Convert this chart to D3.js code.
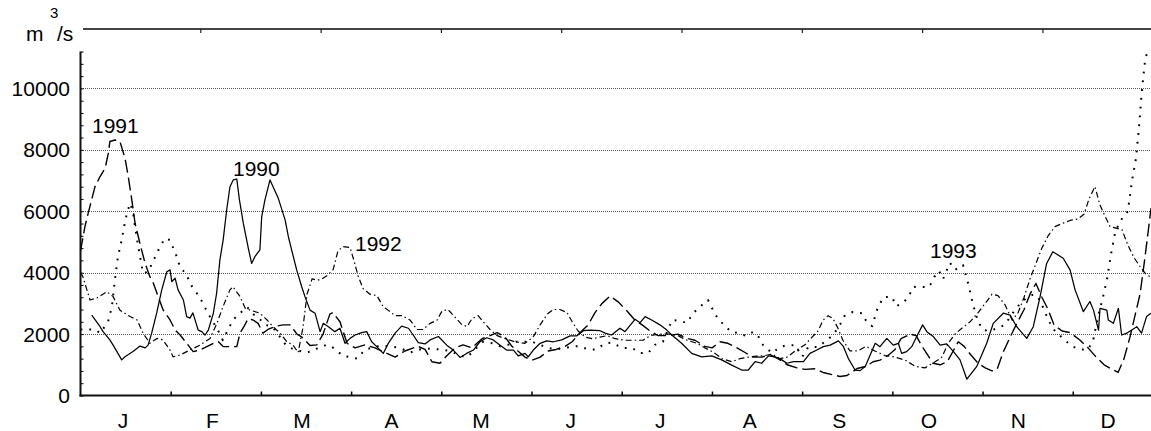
<!DOCTYPE html>
<html><head><meta charset="utf-8">
<script src="https://cdn.jsdelivr.net/npm/d3@7"></script>
<style>
body{margin:0;background:#fff}
svg{display:block;overflow:hidden}
text{font-family:"Liberation Sans",Arial,sans-serif;fill:#000}
</style></head>
<body><svg id="c" width="1151" height="431"></svg>
<script>
// ---------- data ----------
const months = ["J","F","M","A","M","J","J","A","S","O","N","D"];
const yTickValues = [0,2000,4000,6000,8000,10000];
const yTickLabels = ["0","2000","4000","6000","8000","10000"];
const yearLabels = ["1990","1991","1992","1993"];

const days1990 = [3.8,6.6,7.6,9.9,11.0,13.9,15.0,17.7,20.1,21.8,22.8,24.0,25.7,27.4,29.1,30.2,30.8,31.9,32.9,34.7,35.8,36.9,37.9,39.7,40.9,42.0,43.1,44.8,45.9,47.0,48.1,49.3,50.4,51.5,52.7,53.6,54.9,56.6,57.7,58.8,60.5,61.1,62.2,63.9,66.7,69.0,70.1,71.2,72.9,74.6,75.7,77.4,79.1,80.8,81.9,83.6,85.8,87.5,89.2,90.9,92.6,94.8,96.5,98.2,99.9,102.1,103.8,106.1,108.3,110.6,112.2,113.9,116.2,117.9,120.7,123.5,125.7,128.0,130.2,132.5,134.7,137.0,139.2,141.5,143.7,146.0,147.6,149.9,151.0,152.7,155.0,157.2,159.5,162.3,165.1,167.3,169.6,171.8,175.2,176.9,179.1,181.9,183.6,187.0,188.7,190.4,192.6,195.4,197.7,199.4,202.7,206.1,209.5,212.9,216.2,219.6,223.0,225.2,227.5,229.7,232.0,234.2,236.5,238.2,240.4,243.8,246.0,248.3,250.5,252.8,255.6,257.3,258.9,261.2,262.9,264.6,266.3,268.0,269.6,271.9,274.1,275.8,276.9,278.6,280.3,282.0,284.0,285.4,287.6,289.9,292.1,294.4,296.6,298.9,302.2,305.6,307.8,311.2,313.5,315.7,319.1,321.3,323.6,325.8,327.9,331.4,333.7,335.4,338.2,340.4,341.6,343.3,343.8,346.1,346.6,348.3,350.0,351.1,352.8,356.2,357.8,359.5,361.0];
const flow1990 = [2620,2240,2080,1810,1640,1160,1260,1430,1610,1550,1640,2030,2690,3440,4030,4090,3710,3820,3440,3110,2570,2520,2690,2130,2080,1970,2130,2680,3330,4410,5060,6040,6800,7020,7050,6370,5610,4790,4300,4520,4740,5820,6370,7020,6420,5720,5170,4740,4090,3540,3220,2780,2680,2080,2350,2240,2080,2190,1700,1860,1970,2050,2080,1750,1590,1370,1700,2030,2260,2190,1970,1720,1680,1810,1920,1640,1480,1240,1370,1480,1750,1880,1810,1640,1480,1480,1290,1370,1260,1480,1700,1780,1750,1810,1940,1940,2110,2130,2110,2030,1970,2190,2080,2480,2370,2570,2460,2300,2130,1970,1700,1370,1260,1290,1160,990,830,830,1100,1050,1290,1260,1160,1050,1100,1100,1370,1480,1590,1640,1780,1590,1210,830,810,940,1320,1700,1590,1860,1640,1700,1370,1430,1590,1920,2300,2080,1920,1640,1680,1430,1160,530,940,1700,2350,2680,2620,2240,1860,2240,3220,4300,4680,4470,4090,3440,2730,3060,2780,2130,2840,2780,2460,2350,2840,1970,2030,2240,2030,2570,2680];

const days1991 = [0,1.5,2.6,4.9,6.6,8.3,9.4,9.9,11.6,13.3,15.0,16.1,17.3,18.4,19.5,20.6,21.8,23.4,24.6,26.2,27.9,30.2,31.9,33.6,35.8,38.0,40.3,42.6,44.8,46.5,48.2,50.4,52.7,53.8,55.1,56.5,58.2,59.9,61.5,63.2,65.6,68.3,70.7,73.0,74.7,77.4,79.7,81.8,84.1,85.1,87.5,89.9,92.6,95.9,99.3,102.7,106.1,109.4,113.8,116.2,118.5,121.2,123.6,126.3,129.0,132.0,135.4,138.1,140.5,143.2,145.5,147.5,149.9,152.3,155.0,157.7,160.4,163.4,165.8,168.5,171.2,173.5,175.9,178.6,181.3,184.3,187.0,189.4,192.1,194.8,198.1,201.5,204.9,207.2,210.6,213.0,215.6,218.3,221.4,224.1,226.8,229.8,232.5,235.2,238.3,241.6,244.3,247.7,250.4,253.5,256.1,258.5,261.9,264.9,267.3,269.6,272.3,274.7,276.7,279.8,281.8,283.8,285.5,287.5,289.9,292.3,294.3,296.0,298.0,300.0,302.7,305.1,307.4,309.1,311.1,313.5,315.5,318.2,320.2,322.2,324.2,326.3,328.3,331.0,333.7,337.1,339.8,342.5,345.2,347.9,349.9,351.9,353.9,355.6,357.3,358.7,360.0,361.0];
const flow1991 = [4700,5500,5940,6800,7130,7400,7890,8270,8320,8270,7730,7130,6370,5610,5170,4740,4300,3870,3650,3220,2780,2460,2130,1970,1700,1430,1480,1590,1700,1750,1590,1590,1590,2030,2240,2500,2460,2350,2030,2150,2250,2300,2300,2000,1900,1630,1650,2000,2650,2700,2400,1700,1550,1650,1550,1400,1250,1450,1600,1500,1100,1050,1300,1550,1650,1550,1850,1950,2050,1900,1600,1450,1250,1150,1250,1450,1500,1600,1750,2050,2300,2700,3000,3240,3050,2750,2450,2300,2100,1950,1950,2000,1850,1800,1600,1550,1750,1700,1550,1400,1250,1250,1330,1200,1000,900,850,870,750,680,620,650,880,950,1100,1150,1300,1500,1850,2000,1950,1600,1350,1050,1000,1100,1450,1750,1600,1350,1050,900,800,850,1400,1900,2300,2800,3300,3650,3200,2800,2300,2100,2050,1800,1550,1250,1000,850,750,1200,1900,2600,3300,4300,5300,6100];

const days1992 = [0,0.8,3.2,5.6,8.9,11.0,13.3,16.7,19.1,21.1,23.4,25.8,27.8,30.2,31.2,33.6,36.9,40.3,43.7,46.0,48.0,50.4,51.4,53.8,55.5,57.2,60.5,62.9,64.9,67.3,69.6,71.7,73.4,75.0,76.4,78.1,79.8,81.5,83.1,85.2,86.8,88.5,90.9,92.2,93.6,95.3,97.6,100.0,102.0,103.7,106.1,108.4,111.1,113.5,115.5,117.9,120.2,121.9,123.9,126.3,128.7,130.4,132.0,134.1,135.8,138.1,140.5,143.2,146.5,149.9,152.6,155.0,157.4,159.4,161.7,164.1,165.8,167.8,170.2,172.8,175.2,177.6,180.3,183.6,187.0,189.7,192.1,195.4,198.8,201.5,204.5,207.9,210.6,213.6,216.3,219.7,222.4,225.1,228.1,230.8,233.2,235.9,238.3,241.0,244.3,246.7,248.7,250.4,252.1,253.8,255.4,257.1,259.5,262.2,264.9,267.9,271.3,274.7,278.1,281.5,284.8,288.2,290.5,292.6,294.9,297.3,300.0,302.7,305.1,307.4,309.4,311.8,314.2,316.2,318.2,320.2,322.2,324.2,326.3,328.6,331.0,333.7,336.4,338.4,340.1,342.1,343.8,345.2,347.2,349.2,351.2,353.2,355.2,357.3,359.3,361.0];
const flow1992 = [4000,3870,3110,3180,3380,3220,2780,2570,2460,2030,1700,1860,1810,1480,1260,1320,1480,1640,1860,2350,2880,3440,3540,3220,2850,2780,2680,2460,2240,2030,1750,1640,1400,2200,3300,3800,3750,3800,3900,4100,4700,4850,4820,4400,3900,3480,3300,3250,2900,2780,2600,2600,2460,2150,2150,2350,2450,2750,2800,2550,2300,2250,2500,2600,2400,2150,1950,1850,1750,1700,1900,2300,2650,2800,2800,2700,2400,2100,1900,1850,1900,1950,1850,1800,1800,1800,1950,2000,2000,1950,1800,1700,1550,1400,1200,1100,1200,1250,1280,1300,1350,1200,1250,1450,1650,1900,2100,2450,2600,2500,2200,1800,1450,1450,1600,1450,1300,1250,1150,950,900,1100,1250,1700,2000,2200,2400,2700,3000,3300,3250,2950,2450,2700,3200,3800,4300,4800,5200,5500,5600,5700,5750,5900,6400,6800,6200,5900,5500,5450,5400,4900,4500,4200,3950,3850];

const days1993 = [0,2.2,4.9,6.6,9.3,10.6,11.6,12.6,14.0,15.0,15.7,16.7,17.7,18.4,19.1,20.1,21.1,22.8,24.1,25.1,26.8,28.5,30.2,32.5,33.5,35.9,36.9,39.3,41.3,42.7,44.3,46.0,48.0,49.7,51.4,53.8,56.2,58.2,59.9,62.2,64.6,67.3,69.6,72.0,74.0,76.0,78.4,81.0,83.4,86.2,88.2,90.9,93.3,96.0,98.3,101.0,104.4,107.7,111.1,114.5,117.9,121.2,124.6,128.0,130.4,133.0,135.7,138.8,141.5,144.2,146.8,149.6,152.3,155.0,157.7,160.4,163.4,166.1,168.5,171.2,173.9,176.9,179.2,182.6,186.0,188.7,191.4,193.7,196.4,199.5,202.2,204.5,206.6,209.6,211.6,213.3,215.0,217.0,219.4,221.7,224.4,226.8,228.5,230.2,233.2,235.9,238.3,241.0,243.4,245.4,248.7,251.8,253.8,256.1,257.8,260.5,263.6,265.3,267.0,267.9,268.9,270.9,273.7,275.0,277.4,279.4,280.8,283.8,286.2,287.9,289.5,290.9,291.9,293.2,294.9,297.6,299.3,300.9,302.7,304.4,306.7,309.4,311.7,314.5,316.9,319.2,321.6,323.6,325.3,327.7,329.7,332.0,334.4,337.1,339.8,341.5,343.2,344.8,346.2,347.5,348.9,350.2,351.5,353.2,354.6,355.9,357.0,358.0,359.0,360.0];
const flow1993 = [2150,2150,2150,2030,2400,2900,3760,4500,5120,5650,5940,6260,5980,5490,5060,4510,3980,4030,4300,4500,4840,5120,5060,4510,4190,3920,3650,3320,3010,2720,2460,2190,1800,2130,2460,2680,2880,2650,2550,2300,2250,1900,1600,1500,1450,1400,1450,1600,1650,1500,1300,1250,1200,1500,1550,1620,1600,1550,1400,1500,1530,1500,1450,1300,1250,1500,1750,1700,1600,1650,1750,1750,1750,1650,1550,1500,1550,1600,1600,1500,1500,1700,1720,1550,1550,1380,1380,1650,1750,2460,2430,2360,2680,2950,3110,2780,2490,2300,2070,2040,1940,2070,1940,1640,1380,1580,1640,1640,1260,1580,1580,1810,1970,2300,2620,2720,2680,2360,2260,2560,2880,3210,3210,2910,3010,3240,3540,3530,3530,3860,4060,3790,4030,4320,4090,4250,3660,3000,2400,2130,2100,2200,2300,2700,3000,3200,3300,3100,2700,2200,2000,1800,1600,1500,1500,1800,2600,3200,3800,4600,5300,5600,5800,6000,7000,7700,8800,10000,10900,11300];

// ---------- layout ----------
const W = 1151, H = 431;
const DAYS_PER_MONTH = 30.42;
const x = d3.scaleLinear().domain([0, 361]).range([80.5, 1151]);
const y = d3.scaleLinear().domain([0, 12000]).range([395.5, 27]);
const svg = d3.select("#c");

// gridlines
svg.append("g").selectAll("line").data(yTickValues.filter(v => v > 0)).join("line")
  .attr("x1", 81).attr("x2", W)
  .attr("y1", d => Math.round(y(d)) + 0.5).attr("y2", d => Math.round(y(d)) + 0.5)
  .attr("stroke", "#555").attr("stroke-width", 1).attr("stroke-dasharray", "1,1");

// series
const line = d3.line().x(d => x(d[0])).y(d => y(d[1]));
const series = [
  {days: days1990, flow: flow1990, dash: null, w: 1.25},
  {days: days1991, flow: flow1991, dash: "13,5", w: 1.4},
  {days: days1992, flow: flow1992, dash: "6,3,1.5,3", w: 1.2},
  {days: days1993, flow: flow1993, dash: "1.8,7", w: 2}
];
const gS = svg.append("g");
series.forEach(s => {
  gS.append("path")
    .attr("d", line(s.days.map((d, i) => [d, s.flow[i]])))
    .attr("fill", "none").attr("stroke", "#000")
    .attr("stroke-width", s.w)
    .attr("stroke-linejoin", "round")
    .attr("stroke-dasharray", s.dash);
});

// left axis (ticks every 400, pointing inward)
const gL = svg.append("g").attr("transform", "translate(80.5,0)")
  .call(d3.axisRight(y).tickValues(d3.range(0, 11201, 400)).tickSize(3).tickFormat(""));
gL.select(".domain").remove();
gL.selectAll(".tick line").attr("stroke", "#000").attr("stroke-width", 1);
svg.append("line").attr("x1", 80.5).attr("x2", 80.5).attr("y1", y(11200)).attr("y2", y(0) + 1)
  .attr("stroke", "#111").attr("stroke-width", 2);

// bottom axis (month boundaries, pointing up)
const monthBounds = d3.range(1, 12).map(k => k * DAYS_PER_MONTH);
const gB = svg.append("g").attr("transform", `translate(0,${y(0)})`)
  .call(d3.axisTop(x).tickValues(monthBounds).tickSize(4).tickFormat(""));
gB.select(".domain").remove();
gB.selectAll(".tick line").attr("stroke", "#000").attr("stroke-width", 1.5);
svg.append("line").attr("x1", 79.5).attr("x2", W).attr("y1", y(0)).attr("y2", y(0))
  .attr("stroke", "#111").attr("stroke-width", 2);

// top frame line with ticks
const topTicks = d3.range(1, 9).map(k => k * 40.57);
svg.append("line").attr("x1", 83).attr("x2", W).attr("y1", 29).attr("y2", 29)
  .attr("stroke", "#444").attr("stroke-width", 2);
svg.append("g").selectAll("line").data(topTicks).join("line")
  .attr("x1", d => x(d)).attr("x2", d => x(d)).attr("y1", 29).attr("y2", 33)
  .attr("stroke", "#222").attr("stroke-width", 1.2);

// y tick labels
svg.append("g").selectAll("text").data(yTickValues).join("text")
  .attr("x", 70).attr("y", d => y(d)).attr("dy", "0.36em")
  .attr("text-anchor", "end").attr("font-size", 21)
  .text((d, i) => yTickLabels[i]);

// month labels
svg.append("g").selectAll("text").data(months).join("text")
  .attr("x", (d, i) => x(14.3 + i * 30.2)).attr("y", 428)
  .attr("text-anchor", "middle").attr("font-size", 21)
  .text(d => d);

// unit label  m³/s
const gU = svg.append("g");
gU.append("text").attr("x", 26).attr("y", 41).attr("font-size", 21).text("m");
gU.append("text").attr("x", 50).attr("y", 18).attr("font-size", 15).text("3");
gU.append("text").attr("x", 57).attr("y", 41).attr("font-size", 21).text("/s");

// year labels
const yearPos = {"1990": [233, 176], "1991": [92, 133], "1992": [355, 251], "1993": [930, 258]};
svg.append("g").selectAll("text").data(yearLabels).join("text")
  .attr("x", d => yearPos[d][0]).attr("y", d => yearPos[d][1])
  .attr("font-size", 21).text(d => d);
</script></body></html>
